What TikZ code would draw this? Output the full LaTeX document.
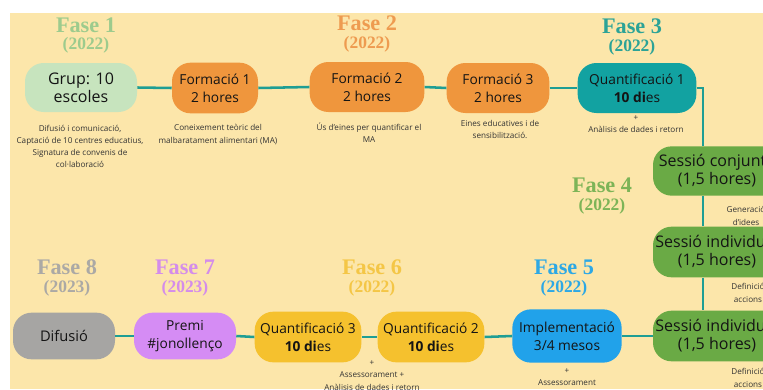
\documentclass[tikz,border=0pt]{standalone}
\usepackage{fontspec}
\setmainfont{Open Sans}
\newfontfamily\fasefont{Liberation Serif}
\usetikzlibrary{positioning}

\definecolor{fons}{HTML}{FCE6AA}
\definecolor{enllac}{HTML}{1E9E94}
\definecolor{grup}{HTML}{C7E4BE}
\definecolor{formacio}{HTML}{EF963D}
\definecolor{quantu}{HTML}{12A2A1}
\definecolor{sessio}{HTML}{6AAA45}
\definecolor{implem}{HTML}{21A2EA}
\definecolor{quant}{HTML}{F5C12E}
\definecolor{premi}{HTML}{D58CF4}
\definecolor{difusio}{HTML}{A6A5A3}
\definecolor{faseu}{HTML}{9DCB8D}
\definecolor{fased}{HTML}{EE9B50}
\definecolor{faset}{HTML}{2CA397}
\definecolor{fasq}{HTML}{7DB457}
\definecolor{fasc}{HTML}{2DA8E5}
\definecolor{fasi}{HTML}{F4C646}
\definecolor{fass}{HTML}{D48CEB}
\definecolor{fasv}{HTML}{ABA9A5}

\tikzset{
  pas/.style={rounded corners=14pt, inner sep=0pt, align=center, text=black!92,
    font=\fontsize{10.3}{13.5}\selectfont},
  pasgran/.style={pas, font=\fontsize{12}{13.5}\selectfont},
  nota/.style={inner sep=0pt, align=center, text=black!80, font=\fontsize{6.1}{9.2}\selectfont},
  fase/.style={inner sep=0pt, font=\fasefont\bfseries\fontsize{16.7}{18}\selectfont},
  any/.style={inner sep=0pt, font=\fasefont\bfseries\fontsize{13.1}{14}\selectfont},
  enllac/.style={draw=enllac, line width=1.9pt}
}

\begin{document}
\begin{tikzpicture}[x=0.75pt,y=-0.75pt]
\useasboundingbox (0,0) rectangle (763,389);
\clip (0,0) rectangle (763,389);
\fill[white] (0,0) rectangle (763,389);
\fill[fons] (10,13) rectangle (763,389);

% fases
\node[fase,text=faseu] (h1) at (86,25) {Fase 1};
\node[any,text=faseu] (a1) at (86,45) {(2022)};
\node[fase,text=fased] (h2) at (367,23) {Fase 2};
\node[any,text=fased] (a2) at (367,44) {(2022)};
\node[fase,text=faset] (h3) at (632,26) {Fase 3};
\node[any,text=faset] (a3) at (632,47) {(2022)};
\node[fase,text=fasq] (h4) at (602,185) {Fase 4};
\node[any,text=fasq] (a4) at (602,206) {(2022)};
\node[fase,text=fasc] (h5) at (564,267) {Fase 5};
\node[any,text=fasc] (a5) at (564,288) {(2022)};
\node[fase,text=fasi] (h6) at (372,267) {Fase 6};
\node[any,text=fasi] (a6) at (372,288) {(2022)};
\node[fase,text=fass] (h7) at (185,267) {Fase 7};
\node[any,text=fass] (a7) at (185,288) {(2023)};
\node[fase,text=fasv] (h8) at (67,267) {Fase 8};
\node[any,text=fasv] (a8) at (67,288) {(2023)};

% passos
\node[pasgran,fill=grup,minimum width=84pt,minimum height=36.75pt] (g) at (81,87.5) {Grup: 10\\escoles};
\node[pas,fill=formacio,minimum width=64.5pt,minimum height=38pt] (f1) at (215,88) {Formació 1\\2 hores};
\node[pas,fill=formacio,minimum width=86pt,minimum height=37.5pt] (f2) at (367,87) {Formació 2\\2 hores};
\node[pas,fill=formacio,minimum width=77pt,minimum height=37.5pt] (f3) at (498,88) {Formació 3\\2 hores};
\node[pas,fill=quantu,minimum width=89pt,minimum height=37.5pt] (q1) at (637,88) {Quantificació 1\\\textbf{10 di}es};
\node[pasgran,fill=sessio,minimum width=96pt,minimum height=37pt] (s1) at (717,171) {Sessió conjunta\\(1,5 hores)};
\node[pasgran,fill=sessio,minimum width=96pt,minimum height=38pt] (s2) at (717,252) {Sessió individual\\(1,5 hores)};
\node[pasgran,fill=sessio,minimum width=96pt,minimum height=38pt] (s3) at (717,336) {Sessió individual\\(1,5 hores)};
\node[pas,fill=implem,minimum width=82pt,minimum height=40pt] (imp) at (567,336) {Implementació\\3/4 mesos};
\node[pas,fill=quant,minimum width=80pt,minimum height=38pt] (q2) at (431,337) {Quantificació 2\\\textbf{10 di}es};
\node[pas,fill=quant,minimum width=80pt,minimum height=38pt] (q3) at (308,337) {Quantificació 3\\\textbf{10 di}es};
\node[pas,fill=premi,minimum width=76.5pt,minimum height=35pt] (pr) at (185,336) {Premi\\\#jonollenço};
\node[pas,fill=difusio,minimum width=76.5pt,minimum height=35pt,font=\fontsize{11}{13.5}\selectfont] (d) at (64,336) {Difusió};

% notes
\node[nota] (ng) at (80,146.5) {Difusió i comunicació,\\Captació de 10 centres educatius,\\Signatura de convenis de\\col·laboració};
\node[nota] (nf1) at (218,134.5) {Coneixement teòric del\\malbaratament alimentari (MA)};
\node[nota] (nf2) at (369,132.5) {Ús d’eines per quantificar el\\MA};
\node[nota] (nf3) at (500,129.5) {Eines educatives i de\\sensibilització.};
\node[nota] (nq1) at (636,124) {+\\Anàlisis de dades i retorn};
\node[nota] (ns1) at (746,216) {Generació\\d’idees};
\node[nota] (ns2) at (748,293) {Definició\\accions};
\node[nota] (ns3) at (748,378) {Definició\\accions};
\node[nota] (nimp) at (567,377) {+\\Assessorament};
\node[nota] (nq2) at (372,375.5) {+\\Assessorament +\\Anàlisis de dades i retorn};

% enllacos
\coordinate (spine) at (703,0);
\draw[enllac] (g.east) -- (f1.west);
\draw[enllac] (f1.east) -- (f2.west);
\draw[enllac] (f2.east) -- (f3.west);
\draw[enllac] (f3.east) -- (q1.west);
\draw[enllac] (q1.east) -- (q1.east -| spine) -- (s1.north -| spine);
\draw[enllac] (s1.south -| spine) -- (s2.north -| spine);
\draw[enllac] (s2.south -| spine) -- (s3.north -| spine);
\draw[enllac] (s3.west) -- (imp.east);
\draw[enllac] (imp.west) -- (q2.east);
\draw[enllac] (q2.west) -- (q3.east);
\draw[enllac] (q3.west) -- (pr.east);
\draw[enllac] (pr.west) -- (d.east);

\end{tikzpicture}
\end{document}
